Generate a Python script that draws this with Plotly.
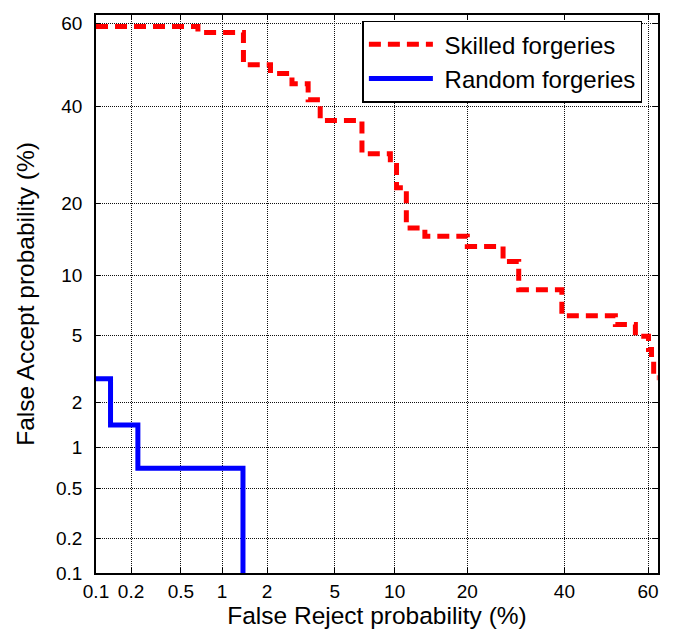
from statistics import NormalDist
import plotly.graph_objects as go

nd = NormalDist()

def probit(p_percent):
    return nd.inv_cdf(p_percent / 100.0)

# Tick labels (percent)
tick_values = [0.1, 0.2, 0.5, 1, 2, 5, 10, 20, 40, 60]
tick_labels = ["0.1", "0.2", "0.5", "1", "2", "5", "10", "20", "40", "60"]

# Skilled forgeries: step vertices (False Reject %, False Accept %)
skilled_fr = [0.1, 0.67, 1.4, 2.1, 2.85, 3.55, 4.16, 6.95, 9.55, 10.2, 11.3, 13.6,
              20.0, 26.6, 29.8, 39.4, 52.2, 57.0, 60.1, 60.8, 61.3, 62.2]
skilled_fa = [59.3, 57.9, 50.1, 48.0, 45.5, 41.7, 36.8, 29.5, 27.1, 22.8, 16.1, 14.9,
              13.5, 11.6, 8.6, 6.37, 5.72, 4.95, 4.18, 3.59, 2.86, 2.86]

# Random forgeries
random_fr = [0.1, 0.134, 0.228, 1.39]
random_fa = [2.82, 1.43, 0.71, 0.08]

fig = go.Figure()
fig.add_trace(go.Scatter(
    x=[probit(v) for v in skilled_fr], y=[probit(v) for v in skilled_fa],
    mode="lines", line=dict(color="#ff0000", width=5, dash="12px,7px", shape="hv"),
    name="\u00a0Skilled forgeries"))
fig.add_trace(go.Scatter(
    x=[probit(v) for v in random_fr], y=[probit(v) for v in random_fa],
    mode="lines", line=dict(color="#0000ff", width=5, shape="hv"),
    name="\u00a0Random forgeries"))

font_family = "Liberation Sans, Arial, sans-serif"
axis_common = dict(
    tickvals=[probit(v) for v in tick_values], ticktext=tick_labels,
    showgrid=True, gridcolor="#111111", griddash="1px,1px", gridwidth=1,
    showline=True, linecolor="black", linewidth=1.5, mirror="ticks",
    ticks="inside", ticklen=5, tickcolor="black", tickwidth=1,
    zeroline=False, tickfont=dict(size=19, color="black", family=font_family),
)

fig.update_layout(
    width=665, height=626,
    margin=dict(l=88, r=15, t=5, b=61),
    plot_bgcolor="white", paper_bgcolor="white",
    font=dict(family=font_family, color="black"),
    xaxis=dict(range=[probit(0.1), probit(62.3)],
               title=dict(text="False Reject probability (%)", font=dict(size=24.5), standoff=4),
               **axis_common),
    yaxis=dict(range=[probit(0.1), probit(62.0)],
               title=dict(text="False Accept probability (%)", font=dict(size=24.5), standoff=14),
               ticklabelstandoff=8, **axis_common),
    legend=dict(x=0.474, y=0.99, xanchor="left", yanchor="top",
                bgcolor="white", bordercolor="black", borderwidth=1.5,
                font=dict(size=24, color="black", family=font_family),
                itemwidth=64, tracegroupgap=0),
    showlegend=True,
)

fig.write_html("out.html")
